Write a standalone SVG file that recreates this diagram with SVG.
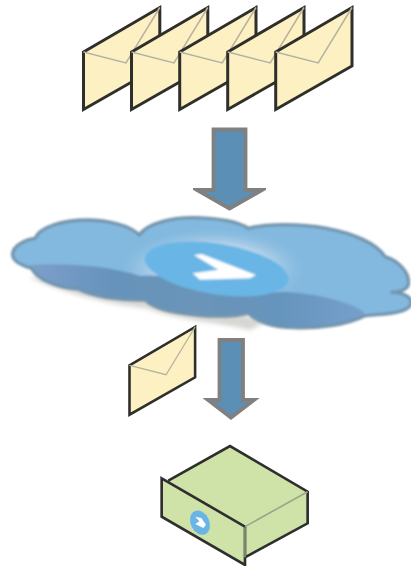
<svg xmlns="http://www.w3.org/2000/svg" xmlns:xlink="http://www.w3.org/1999/xlink" width="411" height="566" viewBox="0 0 411 566">
<defs>
<style>
.env{fill:#fdf1c3;stroke:#2e2e2a;stroke-width:3;stroke-linejoin:miter}
.flap{fill:none;stroke:#b5b2a2;stroke-width:1.5}
.arrow{fill:#5b8fb5;stroke:#808080;stroke-width:3.8;stroke-linejoin:miter;stroke-miterlimit:6}
</style>
<filter id="soft" x="-5%" y="-10%" width="110%" height="120%"><feGaussianBlur stdDeviation="0.6"/></filter>
<filter id="soft3" x="-5%" y="-10%" width="110%" height="120%"><feGaussianBlur stdDeviation="2.4"/></filter>
<filter id="soft2" x="-5%" y="-10%" width="110%" height="120%"><feGaussianBlur stdDeviation="1.5"/></filter>
<filter id="blur" x="-20%" y="-40%" width="140%" height="180%"><feGaussianBlur stdDeviation="7"/></filter>
<radialGradient id="glow" cx="0.5" cy="0.5" r="0.5">
<stop offset="0" stop-color="#e6edf5" stop-opacity="1"/>
<stop offset="0.55" stop-color="#dbe6f0" stop-opacity="0.75"/>
<stop offset="1" stop-color="#83b9df" stop-opacity="0"/>
</radialGradient>
<linearGradient id="under" x1="0" y1="0" x2="1" y2="0">
<stop offset="0" stop-color="#7da0cc"/>
<stop offset="0.25" stop-color="#6593bb"/>
<stop offset="0.5" stop-color="#6b94b8"/>
<stop offset="0.75" stop-color="#6594bd"/>
<stop offset="1" stop-color="#76a0cc"/>
</linearGradient>
<path id="cloudShape" d="M38,145 C40,125 70,105 105,100 C120,65 190,45 260,45 C320,45 390,60 418,90 C440,55 520,35 590,38 C650,40 715,50 745,70 C800,55 900,55 980,70 C1060,85 1130,115 1155,155 C1190,165 1232,200 1225,240 C1220,255 1195,262 1175,262 C1215,262 1240,280 1232,300 C1220,325 1150,328 1095,332 C1040,360 950,372 880,368 C820,368 770,350 745,325 C700,335 640,335 590,330 C530,325 460,312 436,285 C370,285 290,280 235,252 C180,250 110,225 95,190 C60,180 35,165 38,145 Z"/>
<clipPath id="cloudClip"><use xlink:href="#cloudShape" href="#cloudShape"/></clipPath>
<g id="envelope">
<path class="env" d="M0,44.5 L76.3,0 L76.3,58.5 L0,102 Z"/>
<path class="flap" d="M0,44.5 L42.5,55.5 L76.3,0"/>
</g>
</defs>
<rect width="411" height="566" fill="#ffffff"/>
<g id="envelopes" filter="url(#soft)">
<g id="envelope-1"><use xlink:href="#envelope" href="#envelope" x="83.5" y="7.5"/></g>
<g id="envelope-2"><use xlink:href="#envelope" href="#envelope" x="131.5" y="7.5"/></g>
<g id="envelope-3"><use xlink:href="#envelope" href="#envelope" x="179.7" y="7.5"/></g>
<g id="envelope-4"><use xlink:href="#envelope" href="#envelope" x="227.7" y="7.5"/></g>
<g id="envelope-5"><use xlink:href="#envelope" href="#envelope" x="275.7" y="7.5"/></g>
</g>
<g id="connectors" filter="url(#soft)">
<path class="arrow" d="M213.5,129.5 H245.5 V190 H262 L229.5,208.5 L197,190 H213.5 Z"/>
<path class="arrow" d="M219.5,340 H243 V400 H254 L231,417.5 L208,400 H219.5 Z"/>
</g>
<g id="cloud" transform="translate(0,205) scale(0.3333)">
<path d="M85,215 C200,270 340,300 440,310 C520,345 640,350 750,375 L800,350 L400,230 Z" fill="#c9c9c5" opacity="0.75" filter="url(#blur)"/>
<g filter="url(#soft3)">
<use xlink:href="#cloudShape" href="#cloudShape" fill="#83b9df"/>
<g clip-path="url(#cloudClip)">
<ellipse cx="640" cy="195" rx="290" ry="130" fill="url(#glow)"/>
<path d="M90,180 C200,172 340,185 420,213 C480,205 560,225 640,255 C720,262 790,265 850,260 C950,265 1050,290 1092,320 L1085,380 L80,380 Z" fill="url(#under)"/>
</g>
<use xlink:href="#cloudShape" href="#cloudShape" fill="none" stroke="#7394ad" stroke-width="10" stroke-linejoin="round"/>
<ellipse cx="650" cy="192" rx="218" ry="76" transform="rotate(9 650 192)" fill="#69b6e6"/>
<path d="M582,150 L605,147 L768,210 L750,220 L600,224 L578,205 L655,194 Z" fill="#ffffff"/>
</g>
</g>
<g id="envelope-single" filter="url(#soft)" transform="translate(129.5,327) scale(0.86)">
<use xlink:href="#envelope" href="#envelope"/>
</g>
<g id="server" transform="translate(120,320) scale(0.3333)" filter="url(#soft2)">
<path d="M145,482 L330,378 L563,515 L375,620 Z" fill="#cfe3a8"/>
<path d="M375,620 L563,515 V610 L375,712 Z" fill="#cfe3a8"/>
<path d="M125,475 L375,620 V735 L125,590 Z" fill="#cfe3a8"/>
<path d="M375,712 L563,610 V515 L330,378 L145,482 M125,475 L375,620 V735 L125,590 Z" fill="none" stroke="#2f2f2f" stroke-width="8" stroke-linejoin="miter"/>
<path d="M375,620 L563,515" fill="none" stroke="#9aa78c" stroke-width="5"/>
<path d="M375,622 V712" fill="none" stroke="#8b9580" stroke-width="5"/>
<ellipse cx="240" cy="608" rx="28" ry="38" transform="rotate(-25 240 608)" fill="#69b6e6"/>
<path d="M226,590 L244,594 L258,614 L250,624 L226,612 L238,604 Z" fill="#ffffff"/>
</g>
</svg>
